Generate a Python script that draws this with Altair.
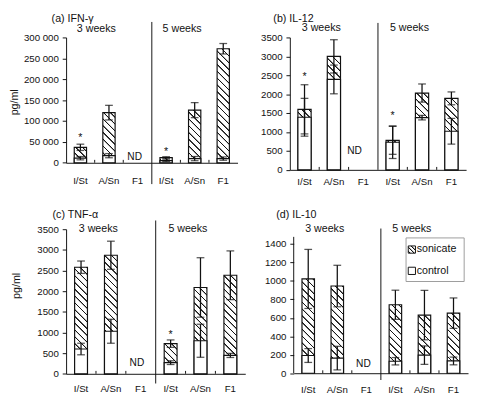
import altair as alt

# ---------------- data ----------------
strains = ["I/St", "A/Sn", "F1", "I/St", "A/Sn", "F1"]
weeks = ["3w", "3w", "3w", "5w", "5w", "5w"]
group_labels = ["3 weeks", "5 weeks"]
legend_labels = ["sonicate", "control"]
panel_titles = ["(a)  IFN-\u03b3", "(b)  IL-12", "(c)  TNF-\u03b1", "(d)  IL-10"]

ifn_son = [37000, 120000, None, 12500, 126000, 273000]
ifn_son_err = [7500, 17500, None, 2000, 18000, 12500]
ifn_ctl = [11000, 17000, None, 5000, 10000, 10000]
ifn_ctl_err = [4000, 5000, None, 2000, 5000, 4000]
ifn_star = [64000, None, None, 31000, None, None]

il12_son = [1600, 3000, None, 780, 2030, 1890]
il12_son_err = [650, 440, None, 370, 240, 170]
il12_ctl = [1390, 2390, None, 730, 1380, 1020]
il12_ctl_err = [500, 380, None, 430, 60, 340]
il12_star = [2500, None, None, 1470, None, None]

tnf_son = [2580, 2870, None, 730, 2090, 2385]
tnf_son_err = [150, 340, None, 90, 720, 590]
tnf_ctl = [600, 1030, None, 270, 800, 445]
tnf_ctl_err = [140, 290, None, 45, 400, 50]
tnf_star = [None, None, None, 990, None, None]

il10_son = [1022, 945, None, 742, 630, 651]
il10_son_err = [320, 225, None, 158, 268, 165]
il10_ctl = [192, 164, None, 130, 196, 133]
il10_ctl_err = [75, 128, None, 40, 100, 42]
il10_star = [None, None, None, None, None, None]

keys = [f"{w} {s}" for w, s in zip(weeks, strains)]

FONT = "Liberation Sans"
INK = "#111111"


def hatch(w, h, period=7.0):
    """Diagonal '\\' hatching as a linear gradient in bounding-box units."""
    w = max(float(w), 1.0)
    h = max(float(h), 1.0)
    L = w + h
    s = L / (w * w + h * h)
    stops = [{"offset": 0, "color": "white"}]
    half, core = 1.0 / L, 0.45 / L
    pos = period / 2.0
    while pos < L:
        c = pos / L
        for off, col in ((c - half, "white"), (c - core, "#141414"),
                         (c + core, "#141414"), (c + half, "white")):
            if 0 <= off <= 1:
                stops.append({"offset": round(off, 5), "color": col})
        pos += period
    stops.append({"offset": 1, "color": "white"})
    return {"gradient": "linear", "x1": 0, "y1": 1,
            "x2": round(w * s, 5), "y2": round(1 - h * s, 5), "stops": stops}


def panel(idx, son, son_err, ctl, ctl_err, star, o):
    width, height, ymax = o["w"], o["h"], o["ymax"]
    step = width / len(keys)
    bw = o["bf"] * step
    rows = []
    for i, k in enumerate(keys):
        if son[i] is None:
            continue
        rows.append({
            "key": k, "son": son[i],
            "son_lo": son[i] - son_err[i], "son_hi": son[i] + son_err[i],
            "ctl": ctl[i], "ctl_lo": max(ctl[i] - ctl_err[i], 0),
            "ctl_hi": ctl[i] + ctl_err[i],
            "grad": hatch(bw, son[i] / ymax * height),
        })
    xscale = alt.Scale(domain=keys, paddingInner=0, paddingOuter=0)
    xaxis = alt.Axis(title=None, ticks=False, labelAngle=0,
                     labelExpr="split(datum.label, ' ')[1]",
                     labelPadding=o["lp"], labelBaseline="top",
                     labelFont=FONT, labelFontSize=10, labelColor=INK,
                     domainColor=INK, domainWidth=1, grid=False)
    yscale = alt.Scale(domain=[0, ymax], nice=False, zero=True)
    ykw = dict(values=o["ticks"], tickSize=4, labelPadding=4, grid=False,
               labelFont=FONT, labelFontSize=10, labelColor=INK,
               domainColor=INK, tickColor=INK, domainWidth=1, tickWidth=1)
    if o.get("axis_top") is not None:
        ykw["domain"] = False
    if o.get("fmt"):
        ykw["labelExpr"] = o["fmt"]
    else:
        ykw["format"] = "d"
    if o.get("ytitle"):
        ykw.update(title=o["ytitle"], titleX=o["tx"], titleY=o["ty"],
                   titleAngle=270, titleAlign="center", titleBaseline="middle",
                   titleFont=FONT, titleFontSize=11, titleFontWeight="normal",
                   titleColor=INK)
    else:
        ykw["title"] = ""
    yaxis = alt.Axis(**ykw)

    X = alt.X("key:N", scale=xscale, axis=xaxis)
    X0 = alt.X("key:N", scale=xscale, axis=xaxis, bandPosition=0)

    def Y(f):
        return alt.Y(f"{f}:Q", scale=yscale, axis=yaxis, stack=None)

    base = alt.Chart(alt.Data(values=rows))
    bar_w = alt.RelativeBandSize(o["bf"])
    layers = [
        base.mark_bar(width=bar_w, stroke=INK, strokeWidth=1.2).encode(
            x=X, y=Y("son"), fill=alt.Fill("grad:N", scale=None)),
        base.mark_bar(width=bar_w, fill="white", stroke=INK, strokeWidth=1.2).encode(
            x=X, y=Y("ctl")),
    ]
    for lo, hi in (("son_lo", "son_hi"), ("ctl_lo", "ctl_hi")):
        layers.append(base.mark_rule(color=INK, strokeWidth=1.3).encode(
            x=X, y=Y(lo), y2=alt.Y2(f"{hi}:Q")))
        for f in (lo, hi):
            layers.append(base.mark_tick(color=INK, orient="horizontal", size=8,
                                         thickness=1.3).encode(x=X, y=Y(f)))
    star_rows = [{"key": k, "v": v} for k, v in zip(keys, star) if v is not None]
    if star_rows:
        layers.append(alt.Chart(alt.Data(values=star_rows)).mark_text(
            text="*", font=FONT, fontSize=11, color=INK, baseline="middle", dy=2
        ).encode(x=X, y=Y("v")))
    nd_rows = [{"key": k, "v": o["nd_y"]} for k, v in zip(keys, son) if v is None]
    layers.append(alt.Chart(alt.Data(values=nd_rows)).mark_text(
        text="ND", font=FONT, fontSize=10.5, color=INK, baseline="middle",
        dx=o["nd_dx"]).encode(x=X, y=Y("v")))
    gl_rows = [{"key": keys[1], "t": group_labels[0]},
               {"key": keys[4], "t": group_labels[1]}]
    layers.append(alt.Chart(alt.Data(values=gl_rows)).mark_text(
        font=FONT, fontSize=11, color=INK, baseline="middle", dx=-13
    ).encode(x=X, y=alt.value(o["gly"]), text="t:N"))
    layers.append(alt.Chart(alt.Data(values=[{"key": keys[3]}])).mark_rule(
        color=INK, strokeWidth=1).encode(
        x=X0, y=alt.value(o["sep"][0]), y2=alt.value(height + o["sep"][1])))
    layers.append(alt.Chart(alt.Data(values=[{"key": keys[j]} for j in (1, 2, 4, 5)])
                  ).mark_rule(color=INK, strokeWidth=1).encode(
        x=X0, y=alt.value(height), y2=alt.value(height - 3)))
    if o.get("axis_top") is not None:
        layers.append(alt.Chart(alt.Data(values=[{"t": "axis"}])).mark_rule(
            color=INK, strokeWidth=1).encode(
            x=alt.value(0), y=alt.Y(datum=o["axis_top"], scale=yscale, axis=yaxis),
            y2=alt.datum(0)))
    layers.append(alt.Chart(alt.Data(values=[{"t": panel_titles[idx]}])).mark_text(
        font=FONT, fontSize=11, color=INK, align="left", baseline="middle"
    ).encode(x=alt.value(o["tlx"]), y=alt.value(o["tly"]), text="t:N"))

    if o.get("legend"):
        lx0, ly0, lx1, ly1 = 116, 9, 176, 54
        layers.append(alt.Chart(alt.Data(values=[{"t": "box"}])).mark_rect(
            fill="white", stroke="#9a9a9a", strokeWidth=1).encode(
            x=alt.value(lx0), x2=alt.value(lx1), y=alt.value(ly0), y2=alt.value(ly1)))
        layers.append(alt.Chart(alt.Data(values=[{"t": legend_labels[0]}])).mark_square(
            size=56, filled=True, fill=hatch(7.5, 7.5, period=4.2), stroke=INK,
            strokeWidth=1, opacity=1).encode(x=alt.value(122), y=alt.value(21)))
        layers.append(alt.Chart(alt.Data(values=[{"t": legend_labels[1]}])).mark_square(
            size=56, filled=True, fill="white", stroke=INK, strokeWidth=1,
            opacity=1).encode(x=alt.value(122), y=alt.value(43)))
        for j, yy in enumerate((21, 43)):
            layers.append(alt.Chart(alt.Data(values=[{"t": legend_labels[j]}])).mark_text(
                font=FONT, fontSize=11, color=INK, align="left", baseline="middle"
            ).encode(x=alt.value(127), y=alt.value(yy), text="t:N"))

    return alt.layer(*layers).properties(width=width, height=height)


opts_a = dict(w=177, h=129.4, ymax=300000, ticks=list(range(0, 300001, 50000)),
              fmt="replace(format(datum.value, ','), ',', ' ')", bf=0.43,
              lp=13, nd_y=14000, nd_dx=-3, gly=-9, sep=(-16, 22), tlx=-15, tly=-19,
              ytitle="pg/ml", tx=-53.5, ty=66.5)
opts_b = dict(w=182, h=136.7, ymax=3500, ticks=list(range(0, 3501, 500)), bf=0.45,
              lp=7, nd_y=500, nd_dx=-9, gly=-9.5, sep=(-15, 0), tlx=-17, tly=-19)
opts_c = dict(w=185, h=149.3, ymax=3500, ticks=list(range(0, 3501, 500)), bf=0.43,
              lp=10, nd_y=258, nd_dx=-4, gly=0, sep=(-9, 10), tlx=-14, tly=-14.5,
              ytitle="pg/ml", tx=-51, ty=58)
opts_d = dict(w=180, h=148.7, ymax=1561, axis_top=1478,
              ticks=list(range(0, 1401, 200)), bf=0.43,
              lp=12, nd_y=95, nd_dx=-3, gly=0, sep=(-0.7, 7), tlx=-18, tly=-14.5,
              legend=True)

pa = panel(0, ifn_son, ifn_son_err, ifn_ctl, ifn_ctl_err, ifn_star, opts_a)
pb = panel(1, il12_son, il12_son_err, il12_ctl, il12_ctl_err, il12_star, opts_b)
pc = panel(2, tnf_son, tnf_son_err, tnf_ctl, tnf_ctl_err, tnf_star, opts_c)
pd = panel(3, il10_son, il10_son_err, il10_ctl, il10_ctl_err, il10_star, opts_d)

row1 = alt.hconcat(pa, pb, spacing=22)
row2 = alt.hconcat(pc, pd, spacing=18)
chart = alt.vconcat(row1, row2, spacing=22).properties(
    padding={"left": 0, "top": -2, "right": 0, "bottom": 0}, background="white"
).configure_view(stroke="transparent")

chart.save("out.html", embed_options={"renderer": "svg", "actions": False})
